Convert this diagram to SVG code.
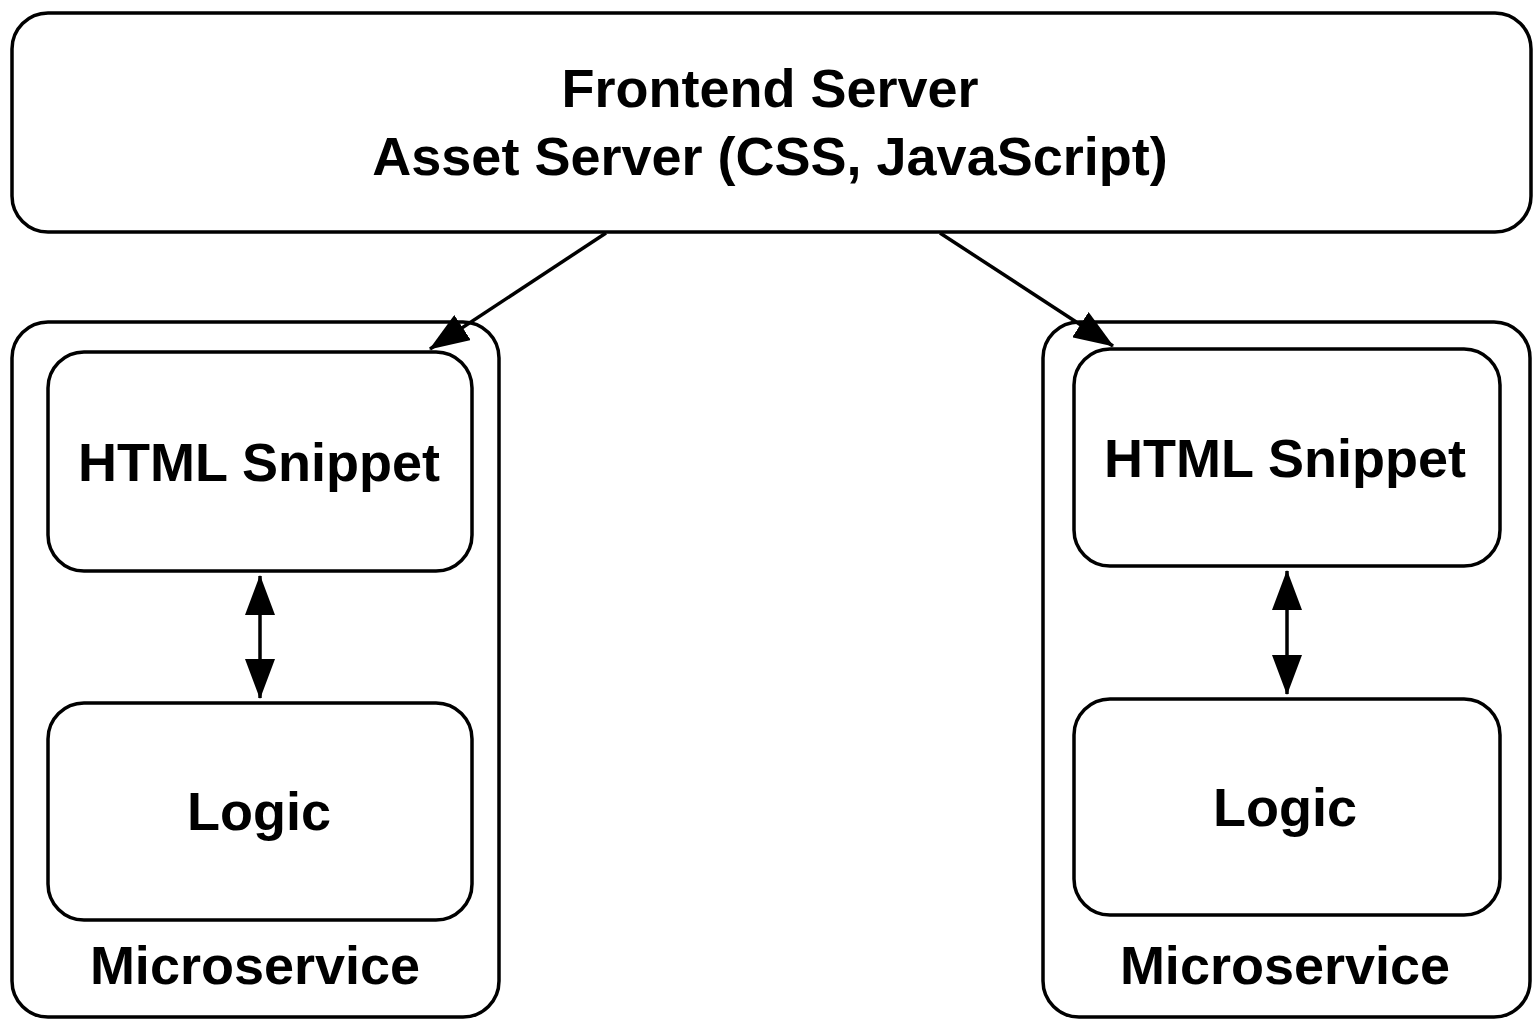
<svg xmlns="http://www.w3.org/2000/svg" width="1537" height="1024" viewBox="0 0 1537 1024">
<style>
.box{fill:#fff;stroke:#000;stroke-width:3.5}
.t{font-family:"Liberation Sans",Arial,sans-serif;font-weight:bold;font-size:54px;text-anchor:middle;fill:#000}
.c{stroke:#000;stroke-width:3.5;fill:none}
</style>
<defs>
<marker id="ah" viewBox="0 0 40 30" refX="39" refY="15" markerWidth="40" markerHeight="30" markerUnits="userSpaceOnUse" orient="auto-start-reverse">
<path d="M0,0 L40,15 L0,30 Z" fill="#000"/>
</marker>
</defs>
<rect width="1537" height="1024" fill="#fff"/>
<g id="frontend">
<rect class="box" x="12" y="13" width="1519" height="219" rx="36"/>
<text class="t" x="770" y="107">Frontend Server</text>
<text class="t" x="770" y="175">Asset Server (CSS, JavaScript)</text>
</g>
<g id="microservice-left">
<rect class="box" x="12" y="322" width="487" height="695" rx="36"/>
<text class="t" x="255" y="984">Microservice</text>
</g>
<g id="html-left">
<rect class="box" x="48" y="352" width="424" height="219" rx="36"/>
<text class="t" x="259" y="481">HTML Snippet</text>
</g>
<g id="logic-left">
<rect class="box" x="48" y="703" width="424" height="217" rx="36"/>
<text class="t" x="259" y="830">Logic</text>
</g>
<g id="microservice-right">
<rect class="box" x="1043" y="322" width="487" height="695" rx="36"/>
<text class="t" x="1285" y="984">Microservice</text>
</g>
<g id="html-right">
<rect class="box" x="1074" y="349" width="426" height="217" rx="36"/>
<text class="t" x="1285" y="477">HTML Snippet</text>
</g>
<g id="logic-right">
<rect class="box" x="1074" y="699" width="426" height="216" rx="36"/>
<text class="t" x="1285" y="826">Logic</text>
</g>
<g id="connectors">
<line class="c" x1="606" y1="233" x2="430" y2="349" marker-end="url(#ah)"/>
<line class="c" x1="940" y1="233" x2="1113" y2="346" marker-end="url(#ah)"/>
<line class="c" x1="260" y1="576" x2="260" y2="698" marker-start="url(#ah)" marker-end="url(#ah)"/>
<line class="c" x1="1287" y1="571" x2="1287" y2="694" marker-start="url(#ah)" marker-end="url(#ah)"/>
</g>
</svg>
